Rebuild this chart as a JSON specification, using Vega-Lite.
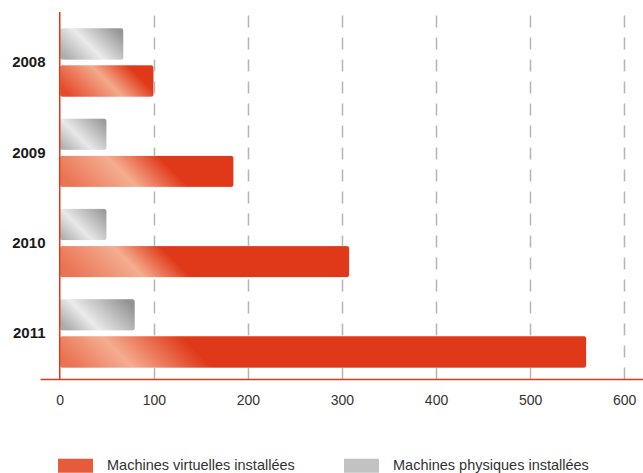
{
  "$schema": "https://vega.github.io/schema/vega-lite/v6.json",
  "autosize": "none",
  "width": 603,
  "height": 367,
  "padding": {"left": 40, "top": 12, "right": 0, "bottom": 94},
  "background": "#ffffff",
  "config": {
    "view": {"stroke": null},
    "font": "Liberation Sans, Arial, sans-serif"
  },
  "data": {
    "values": [
      {"year": "2008", "series": "Machines physiques installées", "value": 68},
      {"year": "2008", "series": "Machines virtuelles installées", "value": 100},
      {"year": "2009", "series": "Machines physiques installées", "value": 50},
      {"year": "2009", "series": "Machines virtuelles installées", "value": 185},
      {"year": "2010", "series": "Machines physiques installées", "value": 50},
      {"year": "2010", "series": "Machines virtuelles installées", "value": 308},
      {"year": "2011", "series": "Machines physiques installées", "value": 80},
      {"year": "2011", "series": "Machines virtuelles installées", "value": 560}
    ]
  },
  "layer": [
    {
      "mark": {"type": "bar", "cornerRadius": 3, "stroke": "#ffffff", "strokeWidth": 1, "strokeOpacity": 0.3},
      "encoding": {
        "y": {
          "field": "year", "type": "nominal",
          "scale": {"paddingInner": 0.236, "paddingOuter": 0.15, "align": 0.59},
          "axis": {"title": null, "domain": false, "ticks": false, "grid": false, "labelPadding": -5, "labelFontSize": 15, "labelFontWeight": "bold", "labelColor": "#1a1a1a", "labelFont": "Liberation Sans, Arial, sans-serif"}
        },
        "yOffset": {
          "field": "series", "type": "nominal",
          "scale": {"domain": ["Machines physiques installées", "Machines virtuelles installées"], "paddingInner": 0.14, "paddingOuter": 0}
        },
        "x": {
          "field": "value", "type": "quantitative",
          "scale": {"domain": [-21, 620], "nice": false, "zero": false},
          "axis": {
            "title": null, "values": [0, 100, 200, 300, 400, 500, 600],
            "domainColor": "#e0391a", "domainWidth": 1.5, "ticks": false,
            "labelPadding": 14, "labelFontSize": 14, "labelColor": "#333333",
            "labelFont": "Liberation Sans, Arial, sans-serif",
            "grid": true, "gridDash": [12, 10], "gridWidth": 1.5,
            "gridColor": {"condition": {"test": "datum.value === 0", "value": "transparent"}, "value": "#b5b5b5"}
          }
        },
        "color": {
          "field": "series", "type": "nominal",
          "scale": {"domain": ["Machines virtuelles installées", "Machines physiques installées"], "range": ["#e65c3b", "#c2c2c2"]},
          "legend": {
            "title": null, "orient": "none", "legendX": 18, "legendY": 436,
            "direction": "horizontal", "columns": 2, "columnPadding": 49, "padding": 0,
            "symbolType": "M-1,-0.4H1V0.4H-1Z", "symbolSize": 1225, "symbolStrokeWidth": 0, "symbolOpacity": 1,
            "labelFont": "Liberation Sans, Arial, sans-serif",
            "labelFontSize": 14.5, "labelColor": "#333333", "labelOffset": 14, "labelLimit": 0
          },
          "condition": [
            {"test": "datum.year === '2008' && datum.series === 'Machines virtuelles installées'", "value": {"gradient": "linear", "x1": 0, "y1": 0.67, "x2": 1, "y2": 0.33, "stops": [{"offset": 0, "color": "#e4492a"}, {"offset": 0.5, "color": "#f4a98b"}, {"offset": 0.85, "color": "#e0391a"}, {"offset": 1, "color": "#e0391a"}]}},
            {"test": "datum.year === '2009' && datum.series === 'Machines virtuelles installées'", "value": {"gradient": "linear", "x1": 0, "y1": 0.59, "x2": 1, "y2": 0.41, "stops": [{"offset": 0, "color": "#ea7353"}, {"offset": 0.36, "color": "#f5ad90"}, {"offset": 0.65, "color": "#e0391a"}, {"offset": 1, "color": "#e0391a"}]}},
            {"test": "datum.year === '2010' && datum.series === 'Machines virtuelles installées'", "value": {"gradient": "linear", "x1": 0, "y1": 0.555, "x2": 1, "y2": 0.445, "stops": [{"offset": 0, "color": "#ea7353"}, {"offset": 0.24, "color": "#f5ad90"}, {"offset": 0.4, "color": "#e0391a"}, {"offset": 1, "color": "#e0391a"}]}},
            {"test": "datum.year === '2011' && datum.series === 'Machines virtuelles installées'", "value": {"gradient": "linear", "x1": 0, "y1": 0.53, "x2": 1, "y2": 0.47, "stops": [{"offset": 0, "color": "#ea7353"}, {"offset": 0.11, "color": "#f5ad90"}, {"offset": 0.26, "color": "#e0391a"}, {"offset": 1, "color": "#e0391a"}]}},
            {"test": "datum.year === '2008'", "value": {"gradient": "linear", "x1": 0, "y1": 0.75, "x2": 1, "y2": 0.25, "stops": [{"offset": 0, "color": "#acacac"}, {"offset": 0.45, "color": "#ebebeb"}, {"offset": 1, "color": "#969696"}]}},
            {"test": "datum.year === '2011'", "value": {"gradient": "linear", "x1": 0, "y1": 0.71, "x2": 1, "y2": 0.29, "stops": [{"offset": 0, "color": "#acacac"}, {"offset": 0.35, "color": "#ebebeb"}, {"offset": 1, "color": "#939393"}]}},
            {"test": "datum.series === 'Machines physiques installées'", "value": {"gradient": "linear", "x1": 0, "y1": 0.84, "x2": 1, "y2": 0.16, "stops": [{"offset": 0, "color": "#b0b0b0"}, {"offset": 0.4, "color": "#e8e8e8"}, {"offset": 1, "color": "#9a9a9a"}]}}
          ]
        }
      }
    },
    {
      "data": {"values": [{}]},
      "mark": {"type": "rule", "color": "#e0391a", "strokeWidth": 1.5},
      "encoding": {"x": {"datum": 0}}
    }
  ]
}
